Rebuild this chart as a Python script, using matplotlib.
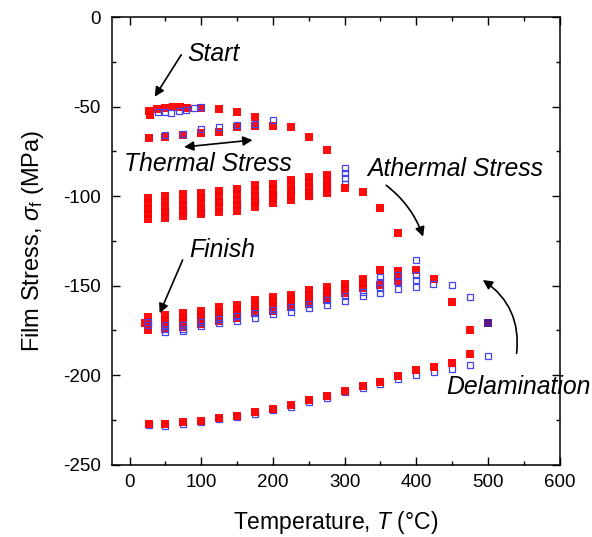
import matplotlib
matplotlib.use('Agg')
import matplotlib.pyplot as plt

plt.rcParams['font.family'] = ['Liberation Sans', 'DejaVu Sans']
plt.rcParams['mathtext.fontset'] = 'custom'
plt.rcParams['mathtext.rm'] = 'Liberation Sans'
plt.rcParams['mathtext.it'] = 'Liberation Sans:italic'
plt.rcParams['axes.unicode_minus'] = False

# first heating, top row (red filled / blue open)
top_red_T = [27, 28, 38, 50, 60, 70, 80, 100, 125, 150, 175]
top_red_S = [-52.5, -54.5, -51.0, -50.5, -50.3, -50.3, -50.5, -50.8, -51.2, -53.2, -55.5]
top_blue_T = [39, 49, 58, 69, 79, 90, 100]
top_blue_S = [-52.8, -52.8, -53.3, -52.2, -51.8, -50.9, -50.3]

# second row
row2_red_T = [27, 50, 75, 100, 125, 150, 175, 200, 225, 250, 275]
row2_red_S = [-67.7, -66.8, -65.8, -64.9, -64.0, -61.5, -60.8, -60.8, -61.5, -66.8, -74.2]
row2_blue_T = [50, 75, 100, 125, 150, 175, 200]
row2_blue_S = [-66.0, -65.0, -62.7, -61.5, -60.3, -59.7, -57.6]

# athermal drop
drop_red_T = [300, 325, 350, 375]
drop_red_S = [-95.6, -97.5, -106.8, -120.4]

# cluster around -100 MPa
mid_red_T = [25]*5 + [50]*5 + [75]*5 + [100]*5 + [125]*5 + [150]*5 + [175]*5 + [200]*5 + [225]*5 + [250]*5 + [275]*5
mid_red_S = [-101, -104, -107, -110, -113,
             -100, -103, -106, -109, -112,
             -99, -102, -105, -108, -111,
             -98, -101, -104, -107, -110,
             -97, -100, -103, -106, -109,
             -96, -99, -102, -105, -108,
             -94, -97, -100, -103, -106,
             -93, -96, -99, -101, -104,
             -91, -94, -97, -100, -102,
             -89, -92, -95, -98, -100,
             -88, -91, -94, -96, -98]
mid_blue_T = [50, 50, 75, 75, 100, 100, 100, 125, 150, 175, 175, 200, 200, 225, 250, 250, 275, 275, 275, 300, 300, 300, 300]
mid_blue_S = [-108, -110.4, -107.2, -109, -100.5, -106.5, -109, -103.3, -105, -101.6, -103.4, -98, -100, -97, -95, -100,
              -88.5, -94, -97.8, -84, -87, -90, -93]

# cluster around -150 to -175 MPa
low_red_T = [22] + [25]*4 + [50]*4 + [75]*4 + [100]*4 + [125]*4 + [150]*4 + [175]*4 + [200]*4 + [225]*4 + [250]*4 + \
            [275]*4 + [300]*3 + [325]*3 + [350]*2 + [375]*3 + [400, 425, 450, 475]
low_red_S = [-171,
             -167.5, -170, -172.5, -175,
             -166.5, -169, -171.5, -174,
             -165.5, -168, -170.5, -173,
             -164, -166.5, -169, -171.5,
             -162, -164.5, -167, -169.5,
             -161, -163.5, -166, -168,
             -158, -160.5, -163, -165.5,
             -156.5, -159, -161.5, -164,
             -155, -157.5, -160, -162,
             -152.5, -155, -157.5, -160,
             -150.5, -153, -155.5, -158,
             -149, -151.5, -154,
             -146, -148.5, -151,
             -141, -149.5,
             -142, -145, -147.5,
             -141, -146, -159, -174.5]
low_blue_T = [25, 25, 50, 50, 50, 75, 75, 75, 100, 100, 125, 125, 150, 150, 175, 175, 200, 200, 225, 225, 250, 250,
              275, 275, 300, 300, 325, 325, 350, 350, 350, 350, 375, 375, 375, 400, 400, 400, 400, 423, 450, 475]
low_blue_S = [-170, -172, -172, -174, -175.7, -172, -174, -175.3, -170, -172.5, -168.5, -171, -167, -169.5,
              -165.5, -168, -163.5, -166, -162, -164.5, -160, -162.5, -158, -160.5, -156, -158.5, -153.5, -156,
              -145, -148, -151.5, -154, -144, -148, -152, -135.6, -144, -147, -150.6, -149, -149.6, -156.5]
overlap_T = [500]
overlap_S = [-170.7]

# bottom curve
bot_red_T = [27, 50, 75, 100, 125, 150, 175, 200, 225, 250, 275, 300, 325, 350, 375, 400, 425, 450, 475]
bot_red_S = [-227.4, -227.4, -226.3, -225.4, -224, -222.6, -220.7, -218.7, -216.6, -213.9, -211.4, -208.6,
             -205.9, -203.6, -200.4, -197.1, -195.2, -193.4, -188.3]
bot_blue_T = [27, 50, 75, 100, 125, 150, 175, 200, 225, 250, 275, 300, 325, 350, 375, 400, 425, 450, 475, 500]
bot_blue_S = [-228, -228.2, -227, -226, -224.6, -223.2, -221.5, -219.6, -217.5, -215, -212.5, -209.6, -207,
              -204.8, -202, -199.9, -198, -196.5, -194.3, -189.3]

red_T = top_red_T + row2_red_T + drop_red_T + mid_red_T + low_red_T + bot_red_T
red_S = top_red_S + row2_red_S + drop_red_S + mid_red_S + low_red_S + bot_red_S
under_blue_T = mid_blue_T + bot_blue_T
under_blue_S = mid_blue_S + bot_blue_S
over_blue_T = top_blue_T + row2_blue_T + low_blue_T
over_blue_S = top_blue_S + row2_blue_S + low_blue_S

fig = plt.figure(figsize=(5.92, 5.37), dpi=100)
ax = fig.add_axes([0.1887, 0.1346, 0.7566, 0.8333])

blue_style = dict(marker='s', markerfacecolor='none', markeredgecolor='#4444ee', markersize=4.5,
                  markeredgewidth=0.9, linestyle='none')
ax.plot(under_blue_T, under_blue_S, **blue_style)
ax.plot(red_T, red_S, 's', color='#ff0000', markersize=5.3, markeredgewidth=0, linestyle='none', alpha=0.95)
ax.plot(over_blue_T, over_blue_S, **blue_style)
ax.plot(overlap_T, overlap_S, 's', color='#5a1a8c', markersize=5.3, markeredgewidth=0, linestyle='none')

ax.set_xlim(-25, 600)
ax.set_ylim(-250, 0)
ax.set_xticks([0, 100, 200, 300, 400, 500, 600])
ax.set_xticks(range(50, 600, 100), minor=True)
ax.set_yticks([-250, -200, -150, -100, -50, 0])
ax.set_yticks(range(-225, 0, 50), minor=True)
ax.tick_params(which='both', direction='in', top=True, right=True, width=1.0, labelsize=13.5)
ax.tick_params(which='major', length=6)
ax.tick_params(which='minor', length=3.2)
ax.tick_params(axis='x', pad=7)
ax.tick_params(axis='y', pad=8)
for sp in ax.spines.values():
    sp.set_linewidth(1.1)

ax.set_xlabel('Temperature, $T$ (°C)', fontsize=16.5, labelpad=13)
ax.set_ylabel(r'Film Stress, $\sigma_{\rm f}$ (MPa)', fontsize=17, labelpad=12)

# annotations
tfs = 17.8
ax.text(81, -20.3, 'Start', fontsize=tfs, style='italic', ha='left', va='center')
ax.text(-7.7, -82, 'Thermal Stress', fontsize=tfs, style='italic', ha='left', va='center')
ax.text(332, -84.8, 'Athermal Stress', fontsize=tfs, style='italic', ha='left', va='center')
ax.text(83.8, -130, 'Finish', fontsize=tfs, style='italic', ha='left', va='center')
ax.text(442, -206.4, 'Delamination', fontsize=tfs, style='italic', ha='left', va='center', clip_on=False)

arr = dict(arrowstyle='-|>', color='black', lw=1.2, mutation_scale=14, shrinkA=0, shrinkB=0)
ax.annotate('', xy=(35, -44.4), xytext=(72, -21), arrowprops=arr)
ax.annotate('', xy=(41.9, -165.4), xytext=(74, -135.6), arrowprops=arr)
ax.annotate('', xy=(171.5, -68.6), xytext=(76, -72.5),
            arrowprops=dict(arr, arrowstyle='<|-|>'))
ax.annotate('', xy=(409.5, -122.6), xytext=(358, -93.9),
            arrowprops=dict(arr, connectionstyle='arc3,rad=-0.15'))
ax.annotate('', xy=(492.8, -146.8), xytext=(540, -187.8),
            arrowprops=dict(arr, connectionstyle='arc3,rad=0.3'))

fig.savefig('out.png', dpi=100)
